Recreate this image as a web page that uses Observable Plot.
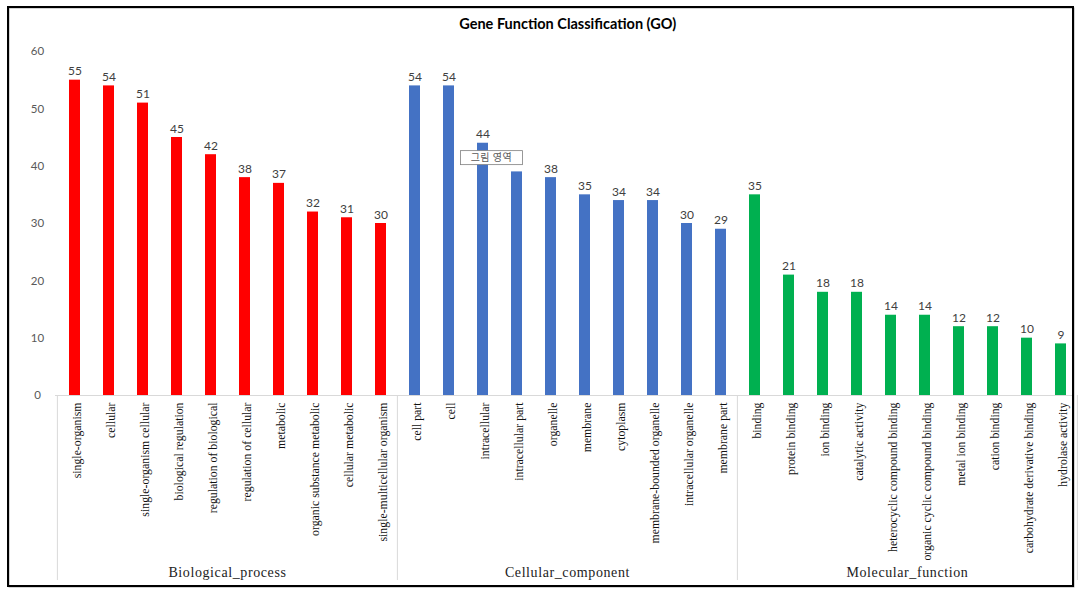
<!DOCTYPE html>
<html><head><meta charset="utf-8">
<script src="https://cdn.jsdelivr.net/npm/d3@7"></script>
<script src="https://cdn.jsdelivr.net/npm/@observablehq/plot@0.6"></script>
<style>html,body{margin:0;padding:0;background:#fff} svg{display:block}</style>
</head><body><div id="chart"></div>
<script>
const title = "Gene Function Classification (GO)";
const tooltipText = "그림 영역";
const groups = ["Biological_process", "Cellular_component", "Molecular_function"];
const groupColors = ["#ff0000", "#4472c4", "#00b050"];
const yTicks = [0, 10, 20, 30, 40, 50, 60];

const bioCategories = ["single-organism", "cellular", "single-organism cellular", "biological regulation", "regulation of biological", "regulation of cellular", "metabolic", "organic substance metabolic", "cellular metabolic", "single-multicellular organism"];
const bioValues = [55, 54, 51, 45, 42, 38, 37, 32, 31, 30];

const cellCategories = ["cell part", "cell", "intracellular", "intracellular part", "organelle", "membrane", "cytoplasm", "membrane-bounded organelle", "intracellular organelle", "membrane part"];
const cellValues = [54, 54, 44, 39, 38, 35, 34, 34, 30, 29];

const molCategories = ["binding", "protein binding", "ion binding", "catalytic activity", "heterocyclic compound binding", "organic cyclic compound binding", "metal ion binding", "cation binding", "carbohydrate derivative binding", "hydrolase activity"];
const molValues = [35, 21, 18, 18, 14, 14, 12, 12, 10, 9];

// value label hidden behind the tooltip box in the reference
const hiddenLabelCategories = ["intracellular part"];

const data = [];
[[bioCategories, bioValues], [cellCategories, cellValues], [molCategories, molValues]].forEach(([cats, vals], g) =>
  cats.forEach((c, i) => data.push({group: groups[g], category: c, value: vals[i]})));
const allCats = data.map(d => d.category);

const PAD_INNER = 0.68;

function decorations(index, scales, values, dims) {
  const g = d3.create("svg:g");
  const x = scales.x, y = scales.y;
  const step = x(allCats[1]) - x(allCats[0]);
  const bw = step * (1 - PAD_INNER);
  const base = y(0);
  const edges = [];
  groups.forEach(grp => {
    const cats = data.filter(d => d.group === grp).map(d => d.category);
    const left = x(cats[0]) - step * PAD_INNER / 2;
    const right = x(cats[cats.length - 1]) + bw + step * PAD_INNER / 2;
    edges.push(left, right);
    g.append("text")
      .attr("x", (left + right) / 2).attr("y", 577)
      .attr("text-anchor", "middle")
      .attr("font-family", "Liberation Serif").attr("font-size", 14)
      .attr("letter-spacing", "0.6px")
      .attr("fill", "#222").text(grp);
  });
  [...new Set(edges.map(e => Math.round(e * 10) / 10))].forEach(ex => {
    g.append("line").attr("x1", ex).attr("x2", ex).attr("y1", base).attr("y2", 580)
      .attr("stroke", "#d9d9d9").attr("stroke-width", 1);
  });
  // Excel "plot area" tooltip
  const tx = x("intracellular") + bw / 2 + 9, ty = y(41.4);
  g.append("rect").attr("x", tx - 31).attr("y", ty - 7).attr("width", 62).attr("height", 14)
    .attr("fill", "#fff").attr("stroke", "#7f7f7f").attr("stroke-width", 0.8);
  g.append("text").attr("x", tx).attr("y", ty).attr("dy", "0.35em")
    .attr("text-anchor", "middle").attr("font-family", "Noto Sans CJK KR")
    .attr("font-size", 10).attr("fill", "#595959").attr("letter-spacing", "0.5px").text(tooltipText);
  // outer border
  g.append("rect").attr("x", 9).attr("y", 8).attr("width", 1065).attr("height", 579)
    .attr("fill", "none").attr("stroke", "#aaa").attr("stroke-width", 1);
  g.append("rect").attr("x", 8).attr("y", 7).attr("width", 1065).attr("height", 579)
    .attr("fill", "none").attr("stroke", "#000").attr("stroke-width", 2);
  return g.node();
}

const chart = Plot.plot({
  width: 1080,
  height: 592,
  marginLeft: 55,
  marginRight: 0.5,
  marginTop: 51,
  marginBottom: 197,
  style: {background: "#fff"},
  x: {domain: allCats, paddingInner: PAD_INNER, paddingOuter: PAD_INNER / 2, axis: null},
  y: {domain: [0, 60]},
  color: {domain: groups, range: groupColors},
  marks: [
    Plot.ruleY([0], {stroke: "#d9d9d9", insetRight: 6}),
    Plot.axisY({ticks: yTicks, tickSize: 0, tickPadding: 18, textAnchor: "middle", fill: "#595959", fontSize: 11.5, fontFamily: "Lato", label: null}),
    Plot.barY(data, {x: "category", y: "value", fill: "group"}),
    Plot.text(data.filter(d => !hiddenLabelCategories.includes(d.category)), {x: "category", y: "value", text: d => String(d.value), dy: -5, lineAnchor: "bottom", fill: "#404040", fontSize: 12, fontFamily: "Lato"}),
    Plot.text(data, {x: "category", text: "category", frameAnchor: "bottom", rotate: -90, textAnchor: "end", lineAnchor: "middle", dy: 7, dx: 2, fill: "#111", fontSize: 11.8, fontFamily: "Liberation Serif"}),
    Plot.text([title], {frameAnchor: "top", dy: -33, fontFamily: "Lato", fontWeight: "bold", fontSize: 14.5, fill: "#000"}),
    decorations
  ]
});
document.getElementById("chart").append(chart);
</script>
</body></html>
